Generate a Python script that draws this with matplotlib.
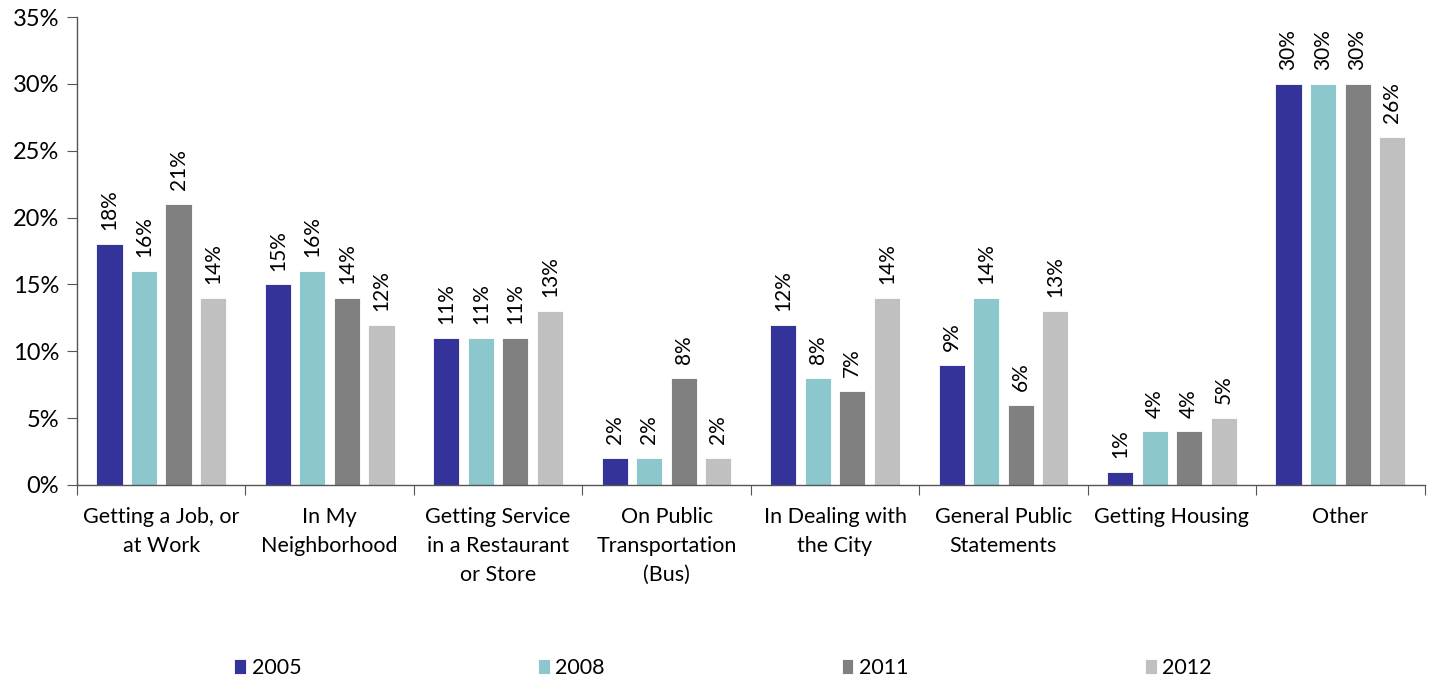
import matplotlib.pyplot as plt
import numpy as np
from matplotlib.ticker import FuncFormatter, MultipleLocator

plt.rcParams["font.family"] = ["Lato", "DejaVu Sans"]

categories = [
    "Getting a Job, or\nat Work",
    "In My\nNeighborhood",
    "Getting Service\nin a Restaurant\nor Store",
    "On Public\nTransportation\n(Bus)",
    "In Dealing with\nthe City",
    "General Public\nStatements",
    "Getting Housing",
    "Other",
]
years = ["2005", "2008", "2011", "2012"]
pct_2005 = [18, 15, 11, 2, 12, 9, 1, 30]
pct_2008 = [16, 16, 11, 2, 8, 14, 4, 30]
pct_2011 = [21, 14, 11, 8, 7, 6, 4, 30]
pct_2012 = [14, 12, 13, 2, 14, 13, 5, 26]
series = [pct_2005, pct_2008, pct_2011, pct_2012]
colors = ["#333399", "#8CC7CE", "#808080", "#C0C0C0"]

fig = plt.figure(figsize=(14.32, 6.83), dpi=100)
ax = fig.add_axes([0.0538, 0.290, 0.941, 0.685])

x = np.arange(len(categories))
pitch = 0.205
width = 0.155
for i, (vals, col, yr) in enumerate(zip(series, colors, years)):
    pos = x + (i - 1.5) * pitch
    ax.bar(pos, vals, width=width, color=col, edgecolor="white", linewidth=0.6, label=yr)
    for px, v in zip(pos, vals):
        ax.annotate(f"{v}%", (px, v), xytext=(0, 10), textcoords="offset points",
                    rotation=90, ha="center", va="bottom", fontsize=15)

ax.set_xlim(-0.5, len(categories) - 0.5)
ax.set_ylim(0, 35)
ax.yaxis.set_major_locator(MultipleLocator(5))
ax.yaxis.set_major_formatter(FuncFormatter(lambda v, _: f"{v:.0f}%"))

# category labels sit between the boundary ticks
ax.set_xticks(np.arange(len(categories) + 1) - 0.5)
ax.set_xticklabels([])
ax.set_xticks(x, minor=True)
ax.set_xticklabels(categories, minor=True, fontsize=15.5, linespacing=1.55, va="top")
ax.tick_params(axis="x", which="minor", length=0, pad=16)
ax.tick_params(axis="x", which="major", length=7, direction="out", color="#555555")
ax.tick_params(axis="y", length=7, direction="out", color="#555555", labelsize=17, pad=6)

for side in ("top", "right"):
    ax.spines[side].set_visible(False)
for side in ("left", "bottom"):
    ax.spines[side].set_color("#555555")
    ax.spines[side].set_linewidth(1.0)

fig.legend(loc="center", bbox_to_anchor=(0.505, 0.022), ncol=4, frameon=False,
           fontsize=15.5, handlelength=0.55, handleheight=0.75, handletextpad=0.25,
           columnspacing=11.0)

fig.savefig("out.png", dpi=100)
